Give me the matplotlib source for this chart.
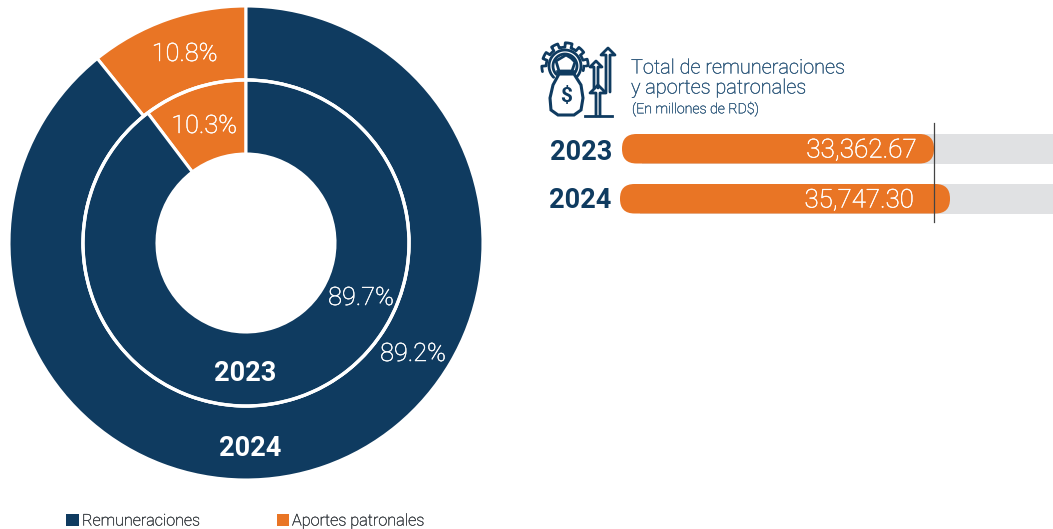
import matplotlib
matplotlib.use("Agg")
import matplotlib.pyplot as plt
import matplotlib.patheffects as pe
from matplotlib.patches import FancyBboxPatch, Rectangle, Circle, Polygon
import numpy as np

plt.rcParams['font.family'] = ['Roboto', 'DejaVu Sans']

NAVY = '#0f3b60'
ORANGE = '#e97525'
GREY = '#e0e1e3'
TITLE_COL = '#2a5579'
LEGEND_COL = '#33383d'

categories = ['Aportes patronales', 'Remuneraciones']
share_2024 = [10.8, 89.2]
share_2023 = [10.3, 89.7]
years = ['2023', '2024']
totals = [33362.67, 35747.30]
total_labels = ['33,362.67', '35,747.30']

fig = plt.figure(figsize=(10.53, 5.29), dpi=100)
# whole figure axes, one unit = one pixel, y going down
ax = fig.add_axes([0, 0, 1, 1])

colors = [ORANGE, NAVY]
ax.pie(share_2024, colors=colors, radius=237, center=(246, 243), startangle=-90, counterclock=False,
       wedgeprops=dict(width=74, edgecolor='white', linewidth=2.2))
ax.pie(share_2023, colors=colors, radius=163, center=(246, 243), startangle=-90, counterclock=False,
       wedgeprops=dict(width=74, edgecolor='white', linewidth=2.2))
ax.add_patch(Circle((246, 243), 163, fill=False, edgecolor='white', linewidth=2.4, zorder=5))

ax.set_xlim(0, 1053)
ax.set_ylim(529, 0)
ax.set_aspect('auto')
ax.axis('off')

# light text needs a hair of stroke to look like the reference
thicker = [pe.withStroke(linewidth=0.35, foreground='white')]

# ring labels
label_kw = dict(color='white', ha='center', va='center', fontsize=18.2, fontweight='light', zorder=6,
                path_effects=thicker)
ax.text(184.5, 54, f"{share_2024[0]}%", **label_kw)
ax.text(204, 126, f"{share_2023[0]}%", **label_kw)
ax.text(361, 298, f"{share_2023[1]}%", **label_kw)
ax.text(413, 354, f"{share_2024[1]}%", **label_kw)
ax.text(245, 373.5, years[0], color='white', ha='center', va='center', fontsize=19.5, fontweight='bold', zorder=6)
ax.text(250, 448.5, years[1], color='white', ha='center', va='center', fontsize=19.5, fontweight='bold', zorder=6)

# legend
legend_stroke = [pe.withStroke(linewidth=0.25, foreground=LEGEND_COL)]
ax.add_patch(Rectangle((66, 514), 13, 12, color=NAVY, lw=0))
ax.text(82, 521, categories[1], color=LEGEND_COL, fontsize=11.6, fontweight='light', va='center',
        path_effects=legend_stroke)
ax.add_patch(Rectangle((277, 514), 12, 12, color=ORANGE, lw=0))
ax.text(292, 521, categories[0], color=LEGEND_COL, fontsize=11.7, fontweight='light', va='center',
        path_effects=legend_stroke)

# bars, pixel scale taken from the two bar ends
px_per_unit = (950 - 934) / (totals[1] - totals[0])
def bar_x(v):
    return 934 + (v - totals[0]) * px_per_unit

bar_tops = [134, 184]
bar_lefts = [622, 620]
text_right = [917, 914]
for i in range(2):
    top = bar_tops[i]
    left = bar_lefts[i]
    r = 14.5
    ax.add_patch(Rectangle((left + 20, top), 1053 - left, 29.5, color=GREY, lw=0, zorder=2))
    ax.add_patch(FancyBboxPatch((left + r, top + r), bar_x(totals[i]) - left - 2 * r, 0.5,
                                boxstyle=f"round,pad={r},rounding_size={r}", fc=ORANGE, ec='none', zorder=3,
                                mutation_aspect=1))
    ax.text(text_right[i], top + 16.5, total_labels[i], color='white', ha='right', va='center',
            fontsize=18.8 - 0.2 * i, fontweight='light', zorder=4, path_effects=thicker)
    ax.text(612 - i, top + 19 - 2 * i, years[i], color=NAVY, ha='right', va='center', fontsize=19.5, fontweight='bold')

# reference line at the 2023 total
ax.plot([bar_x(totals[0])] * 2, [123, 222], color='#444444', lw=0.9, zorder=5)

# header text
title_stroke = [pe.withStroke(linewidth=0.25, foreground=TITLE_COL)]
ax.text(631, 68, 'Total de remuneraciones', color=TITLE_COL, fontsize=14.35, fontweight='light', va='center',
        path_effects=title_stroke)
ax.text(631, 88, 'y aportes patronales', color=TITLE_COL, fontsize=14.35, fontweight='light', va='center',
        path_effects=title_stroke)
ax.text(632, 109, '(En millones de RD$)', color=TITLE_COL, fontsize=10.2, fontweight='light', va='center',
        path_effects=title_stroke)

# icon: gear, money bag and arrows
icon_kw = dict(color=NAVY, lw=2.0, solid_capstyle='round', solid_joinstyle='round', zorder=4)
t = np.linspace(0, 2 * np.pi, 400)
gear_r = 21 + 2.2 * np.sign(np.sin(10 * t))
gx = 565 + gear_r * np.cos(t)
gy = 66 - gear_r * np.sin(t)
gx[np.sin(t) < -0.25] = np.nan
ax.plot(gx, gy, **icon_kw)
tt = np.linspace(-0.25 * np.pi, 1.25 * np.pi, 100)
ax.plot(565 + 16 * np.cos(tt), 66 - 16 * np.sin(tt), **icon_kw)
ax.plot(565 + 12 * np.cos(tt), 66 - 12 * np.sin(tt), **icon_kw)
ax.add_patch(Polygon([[556, 61], [561, 58], [566, 55], [571, 58], [575, 62], [572, 71], [559, 71]],
                     closed=True, fc='white', ec=NAVY, lw=2.0, zorder=5))
bx = [559, 553, 550, 551, 558, 574, 581, 583, 581, 574, 559]
by = [74, 85, 98, 110, 115, 115, 110, 98, 85, 74, 74]
ax.add_patch(Polygon(np.column_stack([bx, by]), closed=True, fc='white', ec=NAVY, lw=2.2, zorder=5))
ax.plot([558, 574], [72, 72], color=NAVY, lw=2.6, zorder=6)
ax.text(566, 97, '$', color=NAVY, fontsize=15, fontweight='bold', ha='center', va='center', zorder=6)

def arrow(x, top, bottom, w):
    xs = [x - 2, x - 2, x - w, x, x + w, x + 2, x + 2]
    ys = [bottom, top + w, top + w, top, top + w, top + w, bottom]
    ax.plot(xs, ys, **icon_kw)

arrow(608, 48, 92, 7)
arrow(596, 61, 88, 6)
arrow(598, 85, 116, 8)
ax.plot([585, 612], [116, 116], color=NAVY, lw=2.0, zorder=4)

fig.savefig('out.png', dpi=100)
